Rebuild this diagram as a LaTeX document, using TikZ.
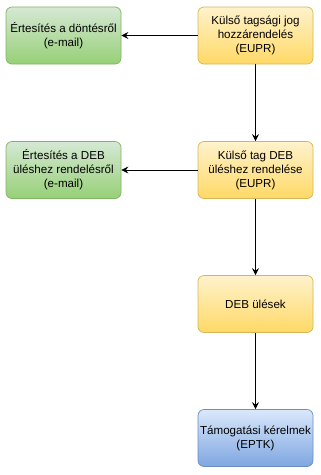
\documentclass[tikz,border=0pt]{standalone}
\usepackage{fontspec}
\setmainfont{Liberation Sans}
\usetikzlibrary{arrows.meta}
\definecolor{gtop}{HTML}{D5E8D4}\definecolor{gbot}{HTML}{97D077}\definecolor{gline}{HTML}{82B366}
\definecolor{ytop}{HTML}{FFF2CC}\definecolor{ybot}{HTML}{FFD966}\definecolor{yline}{HTML}{D6B656}
\definecolor{btop}{HTML}{DAE8FC}\definecolor{bbot}{HTML}{7EA6E0}\definecolor{bline}{HTML}{6C8EBF}
\tikzset{
  box/.style={rectangle, rounded corners=6pt, minimum width=115pt, minimum height=57pt, inner sep=1pt,
    align=center, font=\fontsize{11.6}{14}\selectfont, line width=0.7pt},
  gbox/.style={box, draw=gline, top color=gtop, bottom color=gbot},
  ybox/.style={box, draw=yline, top color=ytop, bottom color=ybot},
  bbox/.style={box, draw=bline, top color=btop, bottom color=bbot},
  conn/.style={-{Stealth[length=7pt,width=7pt,inset=2.5pt]}, line width=0.7pt}
}
\begin{document}
\begin{tikzpicture}[x=1pt,y=-1pt]
\useasboundingbox (0,0) rectangle (321,475);
\node[gbox] (n1) at (63.5,35.5) {Értesítés a döntésről\\(e-mail)};
\node[ybox] (y1) at (255.5,35.5) {Külső tagsági jog\\hozzárendelés\\(EUPR)};
\node[gbox] (n2) at (63.5,170) {Értesítés a DEB\\üléshez rendelésről\\(e-mail)};
\node[ybox] (y2) at (255.5,170) {Külső tag DEB\\üléshez rendelése\\(EUPR)};
\node[ybox] (y3) at (255.5,304) {DEB ülések};
\node[bbox] (b1) at (255.5,438) {Támogatási kérelmek\\(EPTK)};
\draw[conn] (y1) -- (n1);
\draw[conn] (y1) -- (y2);
\draw[conn] (y2) -- (n2);
\draw[conn] (y2) -- (y3);
\draw[conn] (y3) -- (b1);
\end{tikzpicture}
\end{document}
